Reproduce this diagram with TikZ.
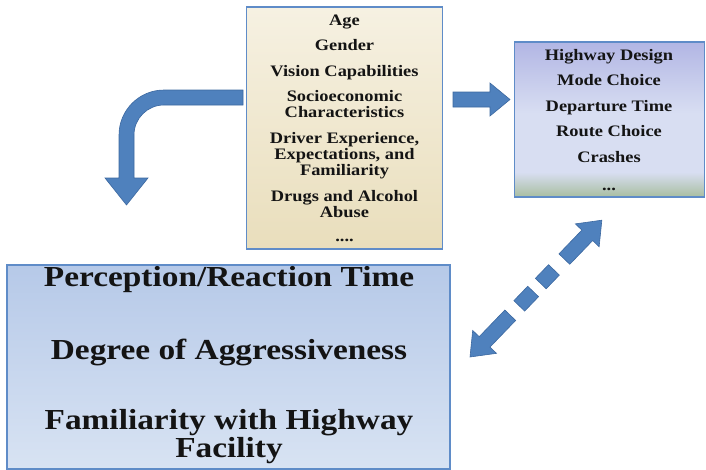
\documentclass[tikz,border=0pt]{standalone}
\usepackage{fontspec}
\setmainfont{Liberation Serif}[FakeStretch=1.15]
\usetikzlibrary{calc}
\definecolor{arrowblue}{RGB}{79,129,189}
\definecolor{arrowedge}{RGB}{60,104,160}
\definecolor{boxedge}{RGB}{95,140,200}
\definecolor{creamtop}{RGB}{246,241,226}
\definecolor{creambot}{RGB}{233,222,188}
\definecolor{lavtop}{RGB}{178,182,228}
\definecolor{lavmid}{RGB}{216,222,242}
\definecolor{lavbot}{RGB}{168,190,160}
\definecolor{bluetop}{RGB}{182,201,232}
\definecolor{bluebot}{RGB}{216,227,243}
\definecolor{txt}{RGB}{20,20,20}
\newcommand{\myBigFont}{\fontsize{29}{28}\selectfont\lineskiplimit=-50pt\relax\lineskip=0pt\relax\bfseries}
\pgfdeclareverticalshading{rightshade}{100bp}{color(0bp)=(lavbot); color(25bp)=(lavbot); color(33bp)=(lavmid); color(52bp)=(lavmid); color(75bp)=(lavtop); color(100bp)=(lavtop)}
\tikzset{
  box/.style={draw=boxedge, line width=1.8pt, inner sep=0pt, outer sep=0pt},
  arr/.style={fill=arrowblue, draw=arrowedge, line width=0.6pt, line join=miter},
  small/.style={font=\fontsize{16}{16}\selectfont\bfseries, text=txt, align=center, anchor=base, inner sep=0pt},
  big/.style={font=\myBigFont, text=txt, align=center, anchor=base, inner sep=0pt}
}
\begin{document}
\begin{tikzpicture}[x=1pt,y=-1pt]
\useasboundingbox (0,0) rectangle (706,469);
% boxes
\node (attr) [box, top color=creamtop, bottom color=creambot, minimum width=196pt, minimum height=242pt] at (344.5,128) {};
\node (effects) [box, shading=rightshade, minimum width=190pt, minimum height=155pt] at (609.5,119.5) {};
\node (traits) [box, top color=bluetop, bottom color=bluebot, minimum width=443pt, minimum height=204pt] at (228.5,367) {};
% top box text
\node (t1) [small] at (344.5,25) {Age};
\node (t2) [small] at (344.5,50) {Gender};
\node (t3) [small] at (344.5,76) {Vision Capabilities};
\node (t4) [small] at (344.5,101) {Socioeconomic};
\node (t5) [small] at (344.5,117) {Characteristics};
\node (t6) [small] at (344.5,143) {Driver Experience,};
\node (t7) [small] at (344.5,159) {Expectations, and};
\node (t8) [small] at (344.5,175) {Familiarity};
\node (t9) [small] at (344.5,201) {Drugs and Alcohol};
\node (t10) [small] at (344.5,217) {Abuse};
\node (t11) [small] at (344.5,241) {....};
% right box text
\node (r1) [small] at (609,60) {Highway Design};
\node (r2) [small] at (609,85) {Mode Choice};
\node (r3) [small] at (609,111) {Departure Time};
\node (r4) [small] at (609,136) {Route Choice};
\node (r5) [small] at (609,162) {Crashes};
\node (r6) [small] at (609,190) {...};
% bottom box text
\node (b1) [big] at (229,286) {Perception/Reaction Time};
\node (b2) [big] at (229,359) {Degree of Aggressiveness};
\node (b3) [big] at (229,457) {Familiarity with Highway\\Facility};
% curved arrow
\draw[arr] (243,90) -- (164,90) .. controls (139.15,90) and (119,110.15) .. (119,135) -- (119,178) -- (105,178) -- (126.5,205) -- (148,178) -- (134,178) -- (134,135) .. controls (134,118.43) and (147.43,105) .. (164,105) -- (243,105) -- cycle;
% right arrow
\draw[arr] (453,92) -- (490,92) -- (490,83) -- (510,99.5) -- (490,116) -- (490,107) -- (453,107) -- cycle;
% dashed double arrow
\begin{scope}[shift={(470,357)}, rotate=46.06]
\draw[arr] (0,0) -- (21,16.5) -- (21,7.5) -- (58,7.5) -- (58,-7.5) -- (21,-7.5) -- (21,-16.5) -- cycle;
\draw[arr] (71,7.5) rectangle (91,-7.5);
\draw[arr] (102,7.5) rectangle (121,-7.5);
\draw[arr] (190,0) -- (169,16.5) -- (169,7.5) -- (136,7.5) -- (136,-7.5) -- (169,-7.5) -- (169,-16.5) -- cycle;
\end{scope}
\end{tikzpicture}
\end{document}
